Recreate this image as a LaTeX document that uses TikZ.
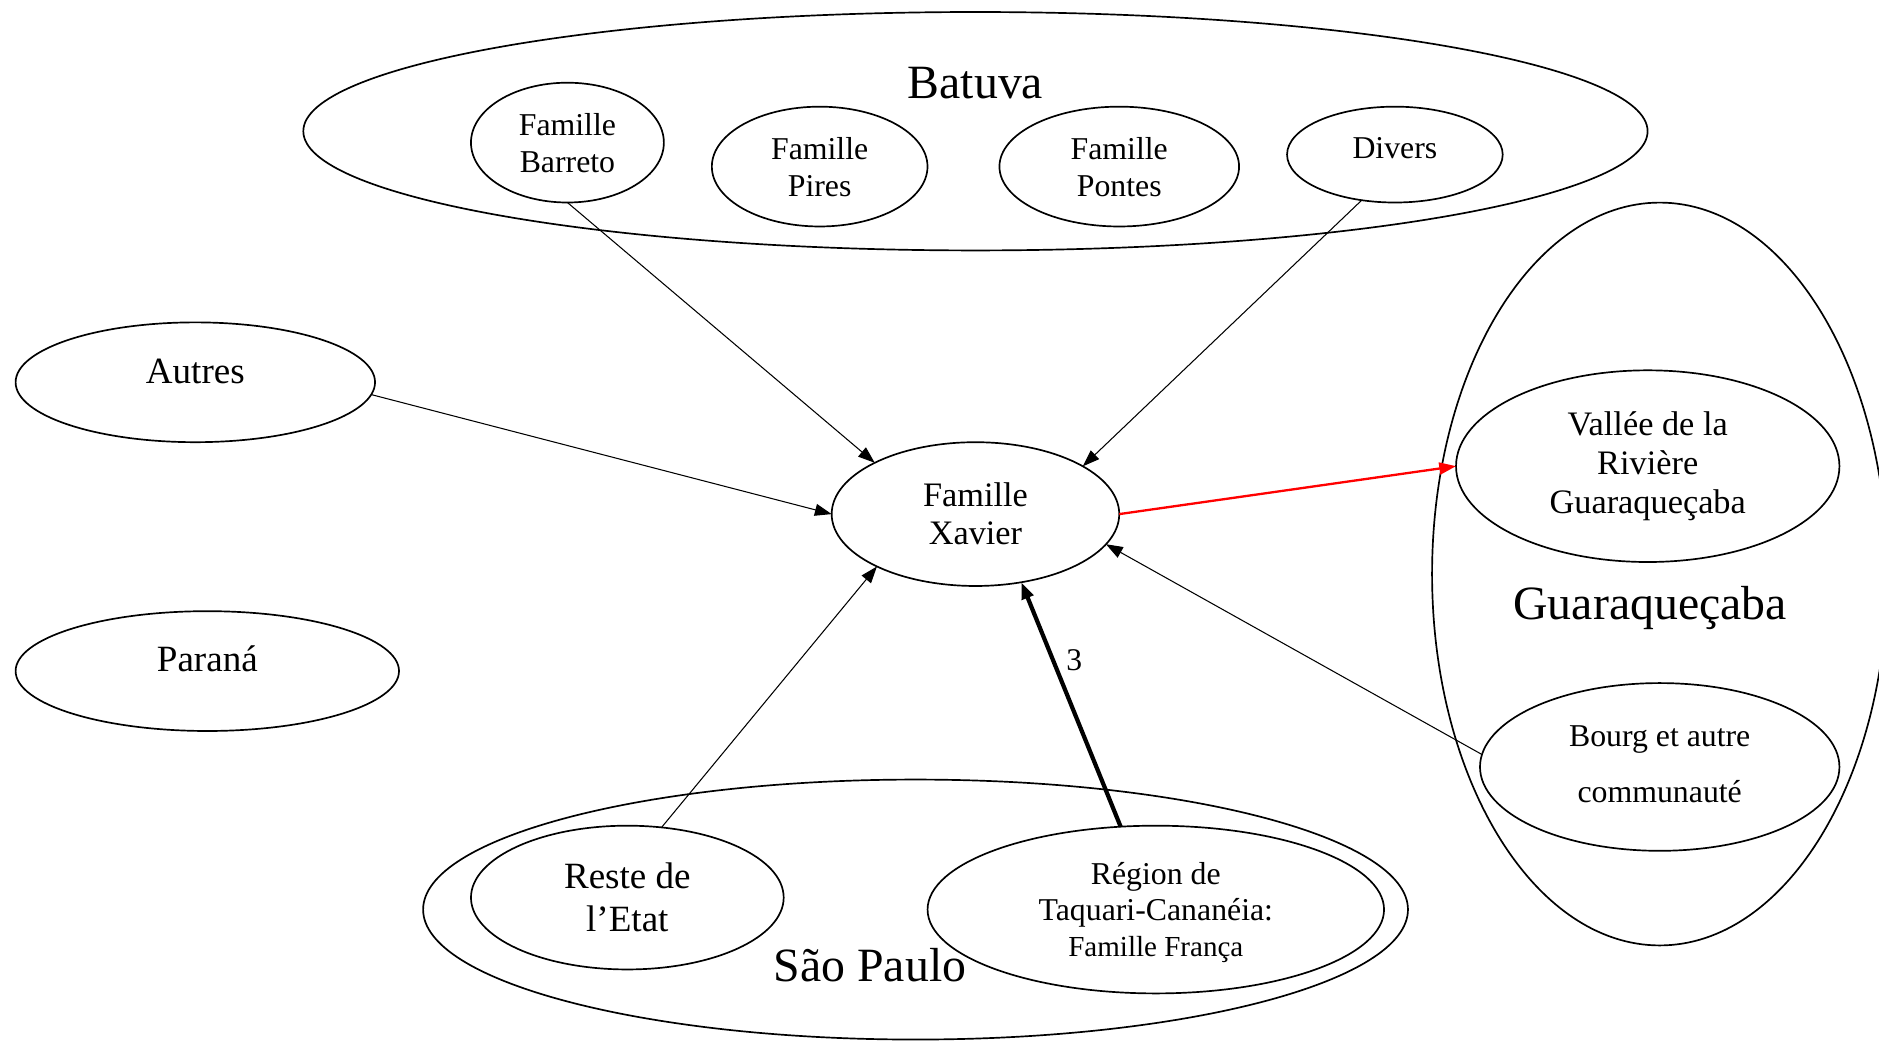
\documentclass[tikz,border=0pt]{standalone}
\usepackage{fontspec}
\setmainfont{Liberation Serif}
\usetikzlibrary{shapes.geometric, arrows.meta}
\tikzset{
  group/.style={
    ellipse, draw, line width=0.8pt,
    inner sep=0pt, outer sep=0pt
  },
  place/.style={
    ellipse, draw, line width=0.8pt,
    inner sep=0pt, outer sep=0pt, align=center,
    font=\fontsize{15.1}{17.6}\selectfont
  },
  big place/.style={place, font=\fontsize{17.6}{20.4}\selectfont},
  title/.style={font=\fontsize{22.7}{26}\selectfont},
  line/.style={draw, -{Triangle[length=2.8mm, width=2mm]}, line width=0.5pt},
  thick line/.style={line, line width=2pt},
  red line/.style={line, draw=red, fill=red, line width=1.1pt},
}

\begin{document}
\begin{tikzpicture}[x=0.02cm, y=-0.02cm]
  \useasboundingbox (0,0) rectangle (1568,869);

  % regions
  \node[group, minimum width=22.44cm, minimum height=3.98cm] (batuva) at (814,109.5) {};
  \node[group, minimum width=7.6cm, minimum height=12.4cm] (guara) at (1385,479) {};
  \node[group, minimum width=16.44cm, minimum height=4.34cm] (saopaulo) at (764,759) {};
  \node[title] (batuvaname) at (814,69) {Batuva};
  \node[title] (guaraname) at (1377,507) {Guaraqueçaba};
  \node[title] (saopauloname) at (726,805) {São Paulo};

  % Batuva
  \node[place, minimum width=3.22cm, minimum height=2cm, text depth=-0.04cm] (barreto) at (473.5,119) {Famille\\Barreto};
  \node[place, minimum width=3.6cm, minimum height=2cm, text depth=-0.04cm] (pires) at (684,139) {Famille\\Pires};
  \node[place, minimum width=4cm, minimum height=2cm, text depth=-0.04cm] (pontes) at (934,139) {Famille\\Pontes};
  \node[place, minimum width=3.6cm, minimum height=1.6cm, text depth=0.22cm] (divers) at (1164,129) {Divers};

  % left side
  \node[big place, minimum width=6cm, minimum height=2cm, text depth=0.36cm] (autres) at (163,319) {Autres};
  \node[big place, minimum width=6.4cm, minimum height=2cm, text depth=0.4cm] (parana) at (173,560) {Paraná};

  \node[place, font=\fontsize{16.3}{18.1}\selectfont, minimum width=4.8cm, minimum height=2.4cm]
    (xavier) at (814,429) {Famille\\Xavier};

  % Guaraqueçaba
  \node[place, font=\fontsize{16.3}{18.7}\selectfont, minimum width=6.4cm, minimum height=3.2cm]
    (vallee) at (1375,389) {Vallée de la\\Rivière\\Guaraqueçaba};
  \node[place, font=\fontsize{15.1}{26.6}\selectfont, minimum width=6cm, minimum height=2.8cm, text depth=0.1cm]
    (bourg) at (1385,640) {Bourg et autre\\communauté};

  % São Paulo
  \node[big place, minimum width=5.22cm, minimum height=2.4cm, text depth=-0.04cm] (reste) at (523.5,749) {Reste de\\l’Etat};
  \node[place, font=\fontsize{15.1}{17}\selectfont, minimum width=7.62cm, minimum height=2.8cm, text depth=-0.14cm]
    (region) at (964.5,759) {Région de\\Taquari-Cananéia:\\{\fontsize{13.8}{17}\selectfont Famille França}};

  \draw[line] (barreto.south) -- (xavier.153);
  \draw[line] (divers.234) -- (xavier.24);
  \draw[line] (autres.-4) -- (xavier.west);
  \draw[line] (reste.64) -- (xavier.208);
  \draw[thick line] (region.113) -- node[pos=0.68, right=2pt, font=\fontsize{15}{18}\selectfont] (three) {3} (xavier.-56);
  \draw[line] (bourg.176) -- (xavier.-13);
  \draw[red line] (xavier.east) -- (vallee.west);
\end{tikzpicture}
\end{document}
